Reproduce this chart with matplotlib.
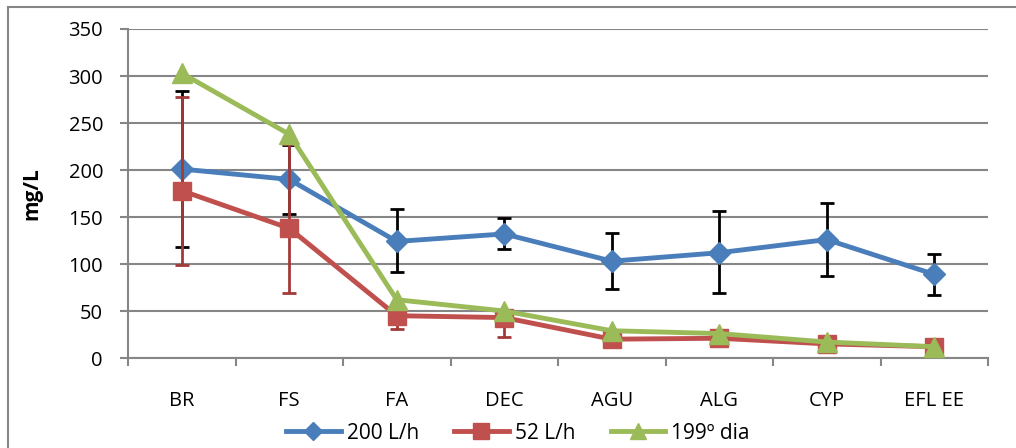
import matplotlib
matplotlib.use("Agg")
import matplotlib.pyplot as plt
from matplotlib.patches import Rectangle
from matplotlib.lines import Line2D
import numpy as np

plt.rcParams['font.family'] = ['Open Sans', 'DejaVu Sans']

categories = ['BR', 'FS', 'FA', 'DEC', 'AGU', 'ALG', 'CYP', 'EFL EE']

s200 = [201, 190, 124, 132, 103, 112, 126, 89]
s200_lo = [83, 37, 33, 16, 30, 43, 39, 22]
s200_hi = [83, 37, 34, 17, 30, 44, 39, 22]

s52 = [178, 138, 45, 43, 20, 21, 15, 12]
s52_lo = [79, 69, 14, 21, 2, 2, 2, 2]
s52_hi = [100, 90, 5, 5, 2, 2, 2, 2]

s199 = [303, 238, 62, 50, 29, 26, 17, 12]

blue, red, green = '#4a7ebb', '#c0504d', '#9bbb59'

W, H = 1016, 448
fig = plt.figure(figsize=(W / 100, H / 100), dpi=100)
ax = fig.add_axes([128 / W, 1 - 358 / H, (988 - 128) / W, (358 - 29) / H])

x = np.arange(len(categories))

ax.errorbar(x, s200, yerr=[s200_lo, s200_hi], color=blue, lw=3.5,
            marker='D', ms=11, mec=blue, ecolor='black', elinewidth=2,
            capsize=5, capthick=2, zorder=3)
ax.errorbar(x, s52, yerr=[s52_lo, s52_hi], color=red, lw=3.5,
            marker='s', ms=13, mec=red, ecolor='#a33a3a', elinewidth=2,
            capsize=5, capthick=2, zorder=4)
ax.plot(x, s199, color=green, lw=3.5, marker='^', ms=14, mec=green, zorder=5)

ax.set_xlim(-0.5, len(categories) - 0.5)
ax.set_ylim(0, 350)
ax.set_yticks(np.arange(0, 351, 50))
ax.set_xticks(x)
ax.set_xticklabels(categories)
ax.set_xticks(np.arange(-0.5, len(categories), 1), minor=True)
ax.tick_params(axis='x', which='major', length=0, pad=24, labelsize=14.5)
ax.tick_params(axis='x', which='minor', length=6, width=1.5, color='#868686')
ax.tick_params(axis='y', length=6, width=1.5, color='#868686', labelsize=14.5, pad=12)

ax.grid(axis='y', color='#868686', lw=1.5)
ax.set_axisbelow(True)
for side in ['top', 'right']:
    ax.spines[side].set_visible(False)
for side in ['left', 'bottom']:
    ax.spines[side].set_color('#868686')
    ax.spines[side].set_linewidth(1.5)

ax.set_ylabel('mg/L', fontsize=15, fontweight='bold', labelpad=19)

handles = [
    Line2D([], [], color=blue, lw=3.5, marker='D', ms=9, mec=blue),
    Line2D([], [], color=red, lw=3.5, marker='s', ms=11, mec=red),
    Line2D([], [], color=green, lw=3.5, marker='^', ms=12, mec=green),
]
ax.legend(handles, ['200 L/h', '52 L/h', '199º dia'], loc='center',
          bbox_to_anchor=(518 / W, 1 - 433 / H), bbox_transform=fig.transFigure,
          ncol=3, frameon=False, fontsize=15, handlelength=2.6,
          columnspacing=1.7, handletextpad=0.3)

fig.patches.append(Rectangle((8 / W, -0.1), 1.1, 1.1 - 7 / H, transform=fig.transFigure,
                             fill=False, ec='#868686', lw=1.5))

fig.savefig('out.png', dpi=100)
